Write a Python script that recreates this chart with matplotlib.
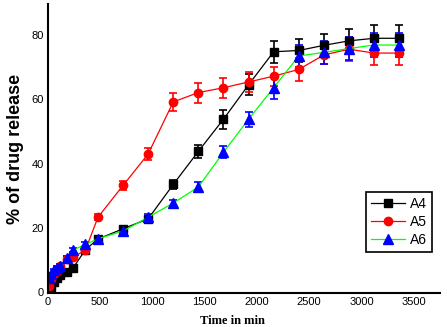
import matplotlib.pyplot as plt
from matplotlib.lines import Line2D

# time points (min)
t = [15, 30, 60, 90, 120, 180, 240, 360, 480, 720, 960, 1200, 1440,
     1680, 1920, 2160, 2400, 2640, 2880, 3120, 3360]

# A4
a4 = [0.5, 1.5, 3.0, 4.3, 5.3, 6.2, 7.4, 13.2, 16.5, 19.7, 22.8, 33.5, 43.8,
      53.8, 64.5, 74.8, 75.2, 76.8, 78.2, 79.0, 79.0]
a4_err = [0.3, 0.3, 0.4, 0.4, 0.5, 0.5, 0.6, 0.8, 0.8, 0.9, 1.0, 1.5, 2.0,
          3.0, 3.3, 3.4, 3.5, 3.6, 3.7, 4.0, 4.0]

# A5
a5 = [2.0, 4.0, 5.5, 6.5, 8.0, 10.4, 10.8, 13.1, 23.3, 33.2, 43.0, 59.2, 62.1,
      63.6, 65.4, 67.2, 69.3, 73.8, 75.6, 74.4, 74.4]
a5_err = [0.8, 0.8, 0.8, 0.8, 0.8, 0.8, 0.9, 1.0, 1.0, 1.5, 1.9, 2.9, 3.1,
          3.1, 3.2, 3.0, 3.7, 2.8, 3.7, 3.7, 3.7]

# A6
a6 = [4.5, 5.5, 6.8, 7.5, 8.1, 10.5, 13.1, 14.8, 16.6, 19.0, 23.3, 27.7, 32.7,
      43.5, 53.8, 63.6, 73.5, 74.6, 75.8, 76.9, 76.9]
a6_err = [0.5, 0.5, 0.5, 0.5, 0.6, 0.6, 0.7, 0.8, 0.8, 0.9, 1.0, 1.0, 1.5,
          1.9, 2.4, 3.4, 3.5, 3.6, 3.7, 3.7, 3.7]

fig = plt.figure(figsize=(4.47, 3.27), dpi=100)
ax = fig.add_axes([0.107, 0.104, 0.877, 0.884])

style = dict(linewidth=0.9, elinewidth=1.2, capsize=3, capthick=1.2)
ax.errorbar(t, a4, yerr=a4_err, color="black", marker="s", markersize=6,
            ecolor="black", **style)
ax.errorbar(t, a5, yerr=a5_err, color="red", marker="o", markersize=6,
            ecolor="red", **style)
ax.errorbar(t, a6, yerr=a6_err, color="#00ff00", marker="^", markersize=7,
            markerfacecolor="blue", markeredgecolor="blue",
            ecolor="blue", **style)

ax.set_xlim(0, 3750)
ax.set_ylim(-0.3, 89.7)
ax.set_xticks([0, 500, 1000, 1500, 2000, 2500, 3000, 3500])
ax.set_yticks([0, 20, 40, 60, 80])

for s in ["top", "right"]:
    ax.spines[s].set_visible(False)
for s in ["left", "bottom"]:
    ax.spines[s].set_linewidth(1.5)

ax.tick_params(length=0, pad=3, labelsize=8)
for lab in ax.get_xticklabels() + ax.get_yticklabels():
    lab.set_family("Liberation Sans")

ax.set_ylabel("% of drug release", fontsize=13, fontweight="bold",
              family="Liberation Sans", labelpad=5)
ax.set_xlabel("Time in min", fontsize=9, fontweight="bold",
              family="Liberation Serif", labelpad=6)
ax.xaxis.set_label_coords(0.47, -0.075)

# legend: line + marker only
handles = [
    Line2D([], [], color="black", marker="s", markersize=6, linewidth=0.9),
    Line2D([], [], color="red", marker="o", markersize=6, linewidth=0.9),
    Line2D([], [], color="#00ff00", marker="^", markersize=7, linewidth=0.9,
           markerfacecolor="blue", markeredgecolor="blue"),
]
leg = ax.legend(handles, ["A4", "A5", "A6"], loc="center right",
                bbox_to_anchor=(0.98, 0.246), borderaxespad=0, frameon=True,
                fancybox=False, edgecolor="black", framealpha=1,
                prop={"family": "Liberation Sans", "size": 10},
                handlelength=2.4, borderpad=0.35, labelspacing=0.3,
                handletextpad=0.4)
leg.get_frame().set_linewidth(1.2)

plt.savefig("out.png", dpi=100)
